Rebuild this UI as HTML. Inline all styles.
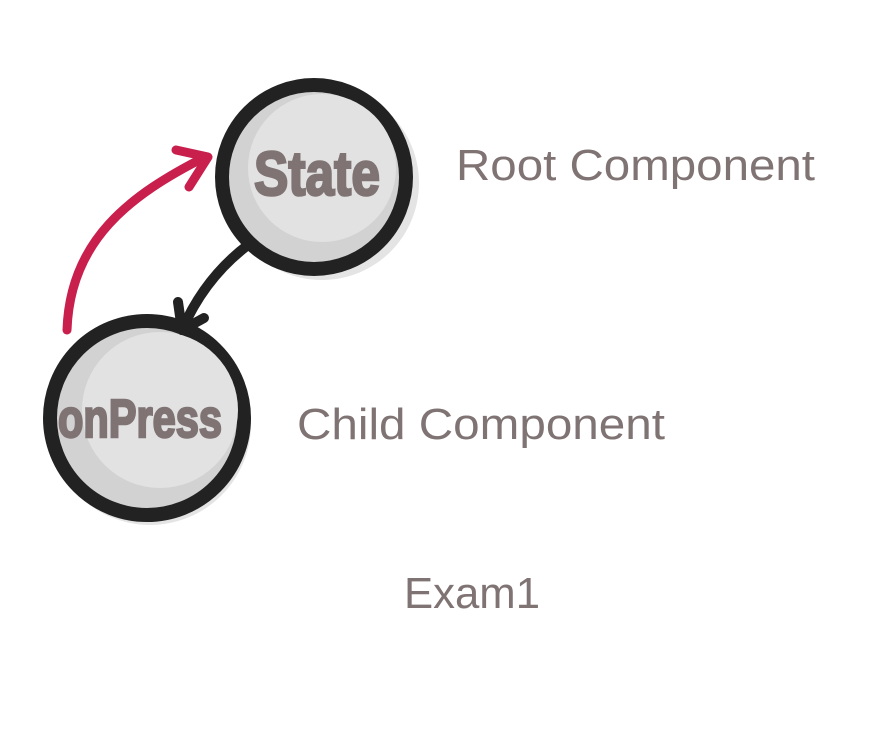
<!DOCTYPE html>
<html><head><style>html,body{margin:0;padding:0;background:#fff}svg{display:block}</style></head>
<body>
<svg width="873" height="738" viewBox="0 0 873 738" xmlns="http://www.w3.org/2000/svg">
<rect width="873" height="738" fill="#fff"/>
<circle cx="322" cy="183" r="97" fill="#e4e4e4"/>
<circle cx="150" cy="424" r="101" fill="#e4e4e4"/>
<circle cx="314" cy="177" r="92" fill="#d2d2d2" stroke="#222" stroke-width="14"/>
<circle cx="322" cy="168" r="74" fill="#e2e2e2"/>
<circle cx="147" cy="418" r="97" fill="#d2d2d2" stroke="#222" stroke-width="14"/>
<circle cx="160" cy="410" r="78" fill="#e2e2e2"/>
<path d="M67 330 C 70 240, 130 195, 205 157" fill="none" stroke="#c81f4d" stroke-width="9" stroke-linecap="round"/>
<path d="M176 150 L208 157 L189 187" fill="none" stroke="#c81f4d" stroke-width="9" stroke-linecap="round" stroke-linejoin="round"/>
<path d="M248 245 C 215 270, 195 300, 182 330" fill="none" stroke="#222" stroke-width="10" stroke-linecap="round"/>
<path d="M178 302 L182 330 L204 318" fill="none" stroke="#222" stroke-width="10" stroke-linecap="round" stroke-linejoin="round"/>
<text x="254" y="195" font-family="'Liberation Sans Narrow','Liberation Sans',sans-serif" font-weight="bold" font-size="62" fill="#7f7373" stroke="#7f7373" stroke-width="2.5" textLength="126" lengthAdjust="spacingAndGlyphs">State</text>
<text x="58" y="437" font-family="'Liberation Sans Narrow','Liberation Sans',sans-serif" font-weight="bold" font-size="54" fill="#7f7373" stroke="#7f7373" stroke-width="2.5" textLength="164" lengthAdjust="spacingAndGlyphs">onPress</text>
<g font-family="'Liberation Sans',sans-serif" font-size="44" fill="#7f7373">
<text x="456" y="180" textLength="359" lengthAdjust="spacingAndGlyphs">Root Component</text>
<text x="297" y="439" textLength="368" lengthAdjust="spacingAndGlyphs">Child Component</text>
<text x="404" y="608" textLength="136" lengthAdjust="spacingAndGlyphs">Exam1</text>
</g>
</svg>
</body></html>
